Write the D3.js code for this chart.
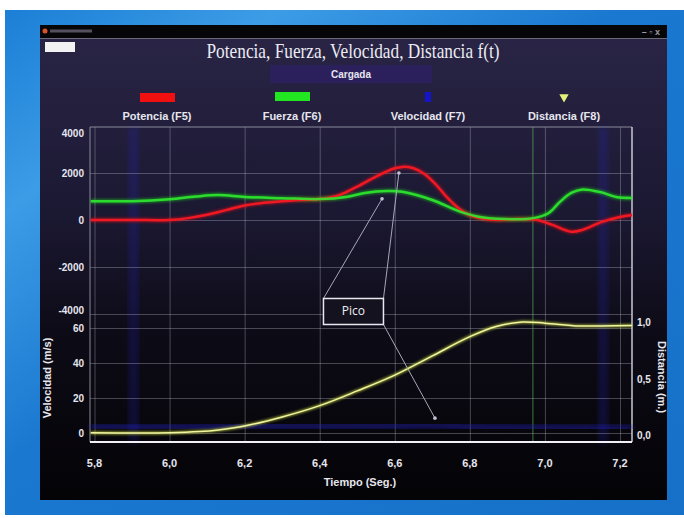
<!DOCTYPE html>
<html lang="en">
<head>
<meta charset="UTF-8">
<title>Potencia, Fuerza, Velocidad, Distancia f(t)</title>
<script src="https://cdn.jsdelivr.net/npm/d3@7/dist/d3.min.js"></script>
<style>
    body { margin: 0; background: #fff; }
    .lbl { font-family: "Liberation Sans Narrow", "Arial Narrow", "Liberation Sans", sans-serif; font-weight: bold; fill: #e6e6ee; }
    .grid line { stroke: #c8c8d8; stroke-opacity: 0.32; stroke-width: 1px; }
    .grid path { display: none; }
</style>
</head>
<body>
<div id="chart"></div>
<script>
    // ---- data ----
    var xTicks = [5.8, 6.0, 6.2, 6.4, 6.6, 6.8, 7.0, 7.2];
    var xTickLabels = ["5,8", "6,0", "6,2", "6,4", "6,6", "6,8", "7,0", "7,2"];
    var fuerzaTicks = [4000, 2000, 0, -2000, -4000];
    var velTicks = [60, 40, 20, 0];
    var distTicks = [1.0, 0.5, 0.0];
    var distTickLabels = ["1,0", "0,5", "0,0"];

    var legendNames = ["Potencia (F5)", "Fuerza (F6)", "Velocidad (F7)", "Distancia (F8)"];

    // Potencia (F5) [time, W]
    var potencia = [[5.79,0],[5.9,0],[6.0,0],[6.05,80],[6.1,220],[6.15,420],[6.2,620],[6.25,730],
        [6.3,800],[6.35,850],[6.4,890],[6.45,1050],[6.5,1420],[6.55,1850],[6.6,2200],[6.62,2260],
        [6.65,2200],[6.68,1950],[6.71,1500],[6.74,950],[6.77,500],[6.8,200],[6.84,40],[6.88,0],
        [6.93,40],[6.98,0],[7.02,-210],[7.07,-500],[7.1,-420],[7.15,-90],[7.2,130],[7.232,210]];
    // Fuerza (F6) [time, N]
    var fuerza = [[5.79,800],[5.9,800],[6.0,880],[6.07,1000],[6.13,1060],[6.2,980],[6.3,930],
        [6.4,890],[6.47,980],[6.52,1150],[6.58,1230],[6.62,1200],[6.7,850],[6.77,380],[6.82,150],
        [6.89,40],[6.97,80],[7.01,300],[7.04,770],[7.07,1150],[7.1,1300],[7.15,1180],[7.19,980],[7.232,940]];
    // Velocidad (F7) [time, m/s]
    var velocidad = [[5.79,3.5],[6.0,3.5],[6.2,3.8],[6.4,4.0],[6.6,4.2],[6.7,4.5],[6.8,3.5],
        [7.0,2.8],[7.232,2.5]];
    // Distancia (F8) [time, m]
    var distancia = [[5.79,0.02],[6.0,0.02],[6.08,0.03],[6.13,0.045],[6.2,0.08],[6.3,0.16],
        [6.4,0.26],[6.5,0.39],[6.6,0.53],[6.7,0.70],[6.8,0.87],[6.87,0.96],[6.94,1.0],[7.0,0.99],
        [7.09,0.965],[7.15,0.965],[7.232,0.97]];

    // vertical markers
    var blueMarks = [5.904, 7.155];
    var greenMark = 6.968;

    // "Pico" annotation targets
    var picoFuerza = [6.566, 900];
    var picoPotencia = [6.611, 2000];
    var picoVel = [6.707, 8.5];

    // ---- layout ----
    var W = 684, H = 518;
    var plot = {left: 90, right: 632, top: 127, bottom: 442};

    var x = d3.scaleLinear().domain([5.788, 7.232]).range([plot.left, plot.right]);
    var yF = d3.scaleLinear().domain([-4000, 4000]).range([314, 126]);
    var yV = d3.scaleLinear().domain([0, 60]).range([433, 328]);
    var yD = d3.scaleLinear().domain([0, 1]).range([435, 322]);

    var svg = d3.select("#chart").append("svg")
        .attr("width", W).attr("height", H);

    var defs = svg.append("defs");
    var desk = defs.append("linearGradient").attr("id", "desk")
        .attr("x1", 0).attr("y1", 0).attr("x2", 1).attr("y2", 1);
    desk.append("stop").attr("offset", "0%").attr("stop-color", "#1b7fd6");
    desk.append("stop").attr("offset", "20%").attr("stop-color", "#3d9ce6");
    desk.append("stop").attr("offset", "45%").attr("stop-color", "#1a78d0");
    desk.append("stop").attr("offset", "100%").attr("stop-color", "#1670c8");

    var win = defs.append("linearGradient").attr("id", "win")
        .attr("x1", 0).attr("y1", 0).attr("x2", 0).attr("y2", 1);
    win.append("stop").attr("offset", "0%").attr("stop-color", "#2a2546");
    win.append("stop").attr("offset", "40%").attr("stop-color", "#1b1832");
    win.append("stop").attr("offset", "65%").attr("stop-color", "#0d0b16");
    win.append("stop").attr("offset", "100%").attr("stop-color", "#040306");

    defs.append("filter").attr("id", "glow").append("feGaussianBlur").attr("stdDeviation", 1.2);
    defs.append("filter").attr("id", "blur3").append("feGaussianBlur").attr("stdDeviation", 3);

    // desktop + window
    svg.append("rect").attr("x", 5).attr("y", 10).attr("width", W - 5).attr("height", 505)
        .attr("fill", "url(#desk)");
    svg.append("rect").attr("x", 40).attr("y", 25).attr("width", 627).attr("height", 475)
        .attr("fill", "url(#win)");
    svg.append("rect").attr("x", 40).attr("y", 25).attr("width", 627).attr("height", 13)
        .attr("fill", "#060608");
    svg.append("line").attr("x1", 40).attr("x2", 667).attr("y1", 38.5).attr("y2", 38.5)
        .attr("stroke", "#6a6a78").attr("stroke-width", 1);
    svg.append("circle").attr("cx", 45).attr("cy", 31).attr("r", 2.5).attr("fill", "#d8552a");
    svg.append("rect").attr("x", 50).attr("y", 29.5).attr("width", 42).attr("height", 3)
        .attr("fill", "#55505e");
    svg.append("text").attr("class", "lbl").attr("x", 660).attr("y", 35)
        .attr("text-anchor", "end").style("font-size", "9px").style("fill", "#9a9aa6")
        .text("–  ▫  x");
    // small combo box top-left
    svg.append("rect").attr("x", 45).attr("y", 42).attr("width", 30).attr("height", 10)
        .attr("fill", "#f2f2f2");

    // title
    svg.append("text").attr("x", 353).attr("y", 58).attr("text-anchor", "middle")
        .attr("textLength", 293).attr("lengthAdjust", "spacingAndGlyphs")
        .style("font-family", "'Liberation Serif', 'Times New Roman', serif")
        .style("font-size", "21px").style("fill", "#ececf4")
        .text("Potencia, Fuerza, Velocidad, Distancia f(t)");
    svg.append("rect").attr("x", 270).attr("y", 65).attr("width", 162).attr("height", 18)
        .attr("fill", "#2b1f5c");
    svg.append("text").attr("class", "lbl").attr("x", 351).attr("y", 78)
        .attr("text-anchor", "middle").style("font-size", "10px").text("Cargada");

    // legend
    var legX = [157, 292, 428, 564];
    svg.append("rect").attr("x", legX[0] - 17).attr("y", 93).attr("width", 35).attr("height", 9)
        .attr("fill", "#f01010");
    svg.append("rect").attr("x", legX[1] - 17).attr("y", 92).attr("width", 35).attr("height", 9)
        .attr("fill", "#22e622");
    svg.append("rect").attr("x", legX[2] - 3).attr("y", 92).attr("width", 6).attr("height", 10)
        .attr("fill", "#1414c8");
    svg.append("path").attr("d", d3.symbol().type(d3.symbolTriangle).size(38))
        .attr("transform", "translate(" + legX[3] + ",97) rotate(180)")
        .attr("fill", "#e4f07a");
    svg.selectAll(".legtxt").data(legendNames).enter().append("text")
        .attr("class", "lbl").attr("x", function(d, i) { return legX[i]; }).attr("y", 120)
        .attr("text-anchor", "middle").style("font-size", "11px")
        .text(function(d) { return d; });

    // vertical blue marker bands
    svg.selectAll(".bmark").data(blueMarks).enter().append("rect")
        .attr("x", function(d) { return x(d) - 5; }).attr("y", plot.top)
        .attr("width", 10).attr("height", plot.bottom - plot.top)
        .attr("fill", "#2a2ad0").attr("opacity", 0.22).attr("filter", "url(#blur3)");

    // grid
    svg.append("g").attr("class", "grid")
        .attr("transform", "translate(0," + plot.bottom + ")")
        .call(d3.axisBottom(x).tickValues(xTicks).tickSize(-(plot.bottom - plot.top)).tickFormat(""));
    svg.append("g").attr("class", "grid")
        .attr("transform", "translate(" + plot.left + ",0)")
        .call(d3.axisLeft(yF).tickValues(fuerzaTicks.slice(1)).tickSize(-(plot.right - plot.left)).tickFormat(""));
    svg.append("g").attr("class", "grid")
        .attr("transform", "translate(" + plot.left + ",0)")
        .call(d3.axisLeft(yV).tickValues(velTicks).tickSize(-(plot.right - plot.left)).tickFormat(""));

    // green vertical marker
    svg.append("line").attr("x1", x(greenMark)).attr("x2", x(greenMark))
        .attr("y1", plot.top).attr("y2", plot.bottom)
        .attr("stroke", "#5ec85e").attr("stroke-opacity", 0.6).attr("stroke-width", 1);

    // frame
    svg.append("line").attr("x1", plot.left).attr("x2", plot.right).attr("y1", plot.top).attr("y2", plot.top)
        .attr("stroke", "#8a8a9c").attr("stroke-width", 1);
    svg.append("line").attr("x1", plot.left).attr("x2", plot.left).attr("y1", plot.top).attr("y2", plot.bottom)
        .attr("stroke", "#8a8a9c").attr("stroke-width", 1);
    svg.append("line").attr("x1", plot.right).attr("x2", plot.right).attr("y1", plot.top).attr("y2", plot.bottom)
        .attr("stroke", "#c8c8d4").attr("stroke-width", 1.5);
    svg.append("line").attr("x1", plot.left).attr("x2", plot.right).attr("y1", plot.bottom).attr("y2", plot.bottom)
        .attr("stroke", "#f0f0f6").attr("stroke-width", 2);

    // series lines
    var lineF = d3.line().curve(d3.curveCatmullRom)
        .x(function(d) { return x(d[0]); }).y(function(d) { return yF(d[1]); });
    var lineV = d3.line().curve(d3.curveCatmullRom)
        .x(function(d) { return x(d[0]); }).y(function(d) { return yV(d[1]); });
    var lineD = d3.line().curve(d3.curveCatmullRom)
        .x(function(d) { return x(d[0]); }).y(function(d) { return yD(d[1]); });

    svg.append("path").datum(velocidad).attr("d", lineV).attr("fill", "none")
        .attr("stroke", "#2020c0").attr("stroke-width", 7).attr("opacity", 0.55).attr("filter", "url(#blur3)");

    svg.append("path").datum(potencia).attr("d", lineF).attr("fill", "none")
        .attr("stroke", "#e0101c").attr("stroke-width", 5).attr("opacity", 0.45).attr("filter", "url(#glow)");
    svg.append("path").datum(fuerza).attr("d", lineF).attr("fill", "none")
        .attr("stroke", "#18d018").attr("stroke-width", 5).attr("opacity", 0.45).attr("filter", "url(#glow)");
    svg.append("path").datum(potencia).attr("d", lineF).attr("fill", "none")
        .attr("stroke", "#f01822").attr("stroke-width", 2.5);
    svg.append("path").datum(fuerza).attr("d", lineF).attr("fill", "none")
        .attr("stroke", "#30f030").attr("stroke-width", 2.5).attr("opacity", 0.85);

    svg.append("path").datum(distancia).attr("d", lineD).attr("fill", "none")
        .attr("stroke", "#c8d840").attr("stroke-width", 3.5).attr("opacity", 0.6).attr("filter", "url(#glow)");
    svg.append("path").datum(distancia).attr("d", lineD).attr("fill", "none")
        .attr("stroke", "#f0f4a0").attr("stroke-width", 1.5);

    // axis labels
    svg.selectAll(".xt").data(xTicks).enter().append("text").attr("class", "lbl")
        .attr("x", function(d) { return x(d); }).attr("y", 467).attr("text-anchor", "middle")
        .style("font-size", "11px").text(function(d, i) { return xTickLabels[i]; });
    svg.selectAll(".yft").data(fuerzaTicks).enter().append("text").attr("class", "lbl")
        .attr("x", 84).attr("y", function(d) { return d === 4000 ? yF(d) + 11 : (d === -4000 ? yF(d) : yF(d) + 4); })
        .attr("text-anchor", "end").style("font-size", "10px").text(function(d) { return d; });
    svg.selectAll(".yvt").data(velTicks).enter().append("text").attr("class", "lbl")
        .attr("x", 84).attr("y", function(d) { return yV(d) + 4; })
        .attr("text-anchor", "end").style("font-size", "10px").text(function(d) { return d; });
    svg.selectAll(".ydt").data(distTicks).enter().append("text").attr("class", "lbl")
        .attr("x", 637).attr("y", function(d) { return yD(d) + 4; })
        .style("font-size", "10px").text(function(d, i) { return distTickLabels[i]; });

    svg.append("text").attr("class", "lbl").attr("x", 360).attr("y", 486).attr("text-anchor", "middle")
        .style("font-size", "11px").text("Tiempo (Seg.)");
    svg.append("text").attr("class", "lbl").attr("transform", "translate(51,378) rotate(-90)")
        .attr("text-anchor", "middle").style("font-size", "11px").text("Velocidad (m/s)");
    svg.append("text").attr("class", "lbl").attr("transform", "translate(658,377) rotate(90)")
        .attr("text-anchor", "middle").style("font-size", "11px").text("Distancia (m.)");

    // "Pico" annotation
    var box = {x: x(6.41), y: yF(-3340), w: 60, h: 26};
    var pts = [
        {from: [box.x, box.y], to: [x(picoFuerza[0]), yF(picoFuerza[1])]},
        {from: [box.x + box.w, box.y], to: [x(picoPotencia[0]), yF(picoPotencia[1])]},
        {from: [box.x + box.w, box.y + box.h], to: [x(picoVel[0]), yV(picoVel[1])]}
    ];
    svg.selectAll(".pl").data(pts).enter().append("line")
        .attr("x1", function(d) { return d.from[0]; }).attr("y1", function(d) { return d.from[1]; })
        .attr("x2", function(d) { return d.to[0]; }).attr("y2", function(d) { return d.to[1]; })
        .attr("stroke", "#a8a8b8").attr("stroke-width", 1);
    svg.selectAll(".pd").data(pts).enter().append("circle")
        .attr("cx", function(d) { return d.to[0]; }).attr("cy", function(d) { return d.to[1]; })
        .attr("r", 1.8).attr("fill", "#c0c0d0");
    svg.append("rect").attr("x", box.x).attr("y", box.y).attr("width", box.w).attr("height", box.h)
        .attr("fill", "#14121e").attr("stroke", "#e8e8f0").attr("stroke-width", 1.5);
    svg.append("text").attr("x", box.x + box.w / 2).attr("y", box.y + 17).attr("text-anchor", "middle")
        .style("font-family", "'Open Sans', 'DejaVu Sans', sans-serif").style("font-size", "12px")
        .style("fill", "#eeeef4").text("Pico");
</script>
</body>
</html>
